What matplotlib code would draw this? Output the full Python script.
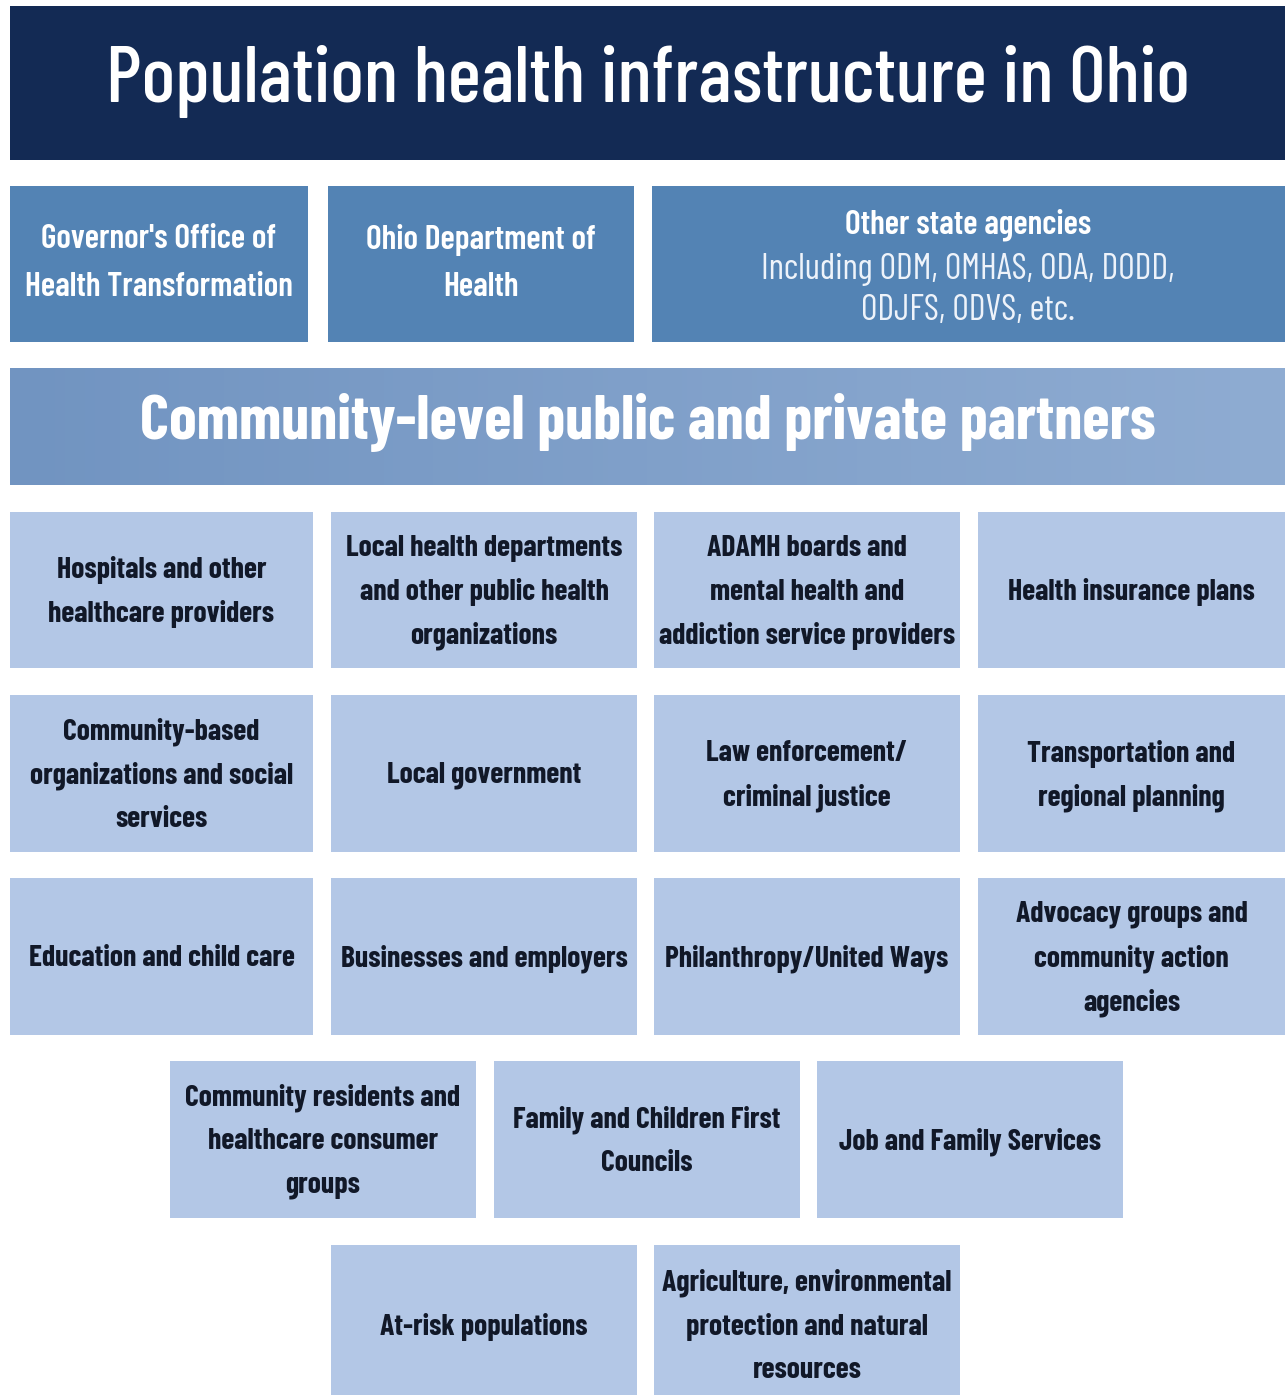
import numpy as np
import matplotlib
matplotlib.use("Agg")
import matplotlib.pyplot as plt
from matplotlib.patches import Rectangle

# === TEXTOS ===
titulo = "Population health infrastructure in Ohio"
subtitulo = "Community-level public and private partners"

agencias = [
    "Governor's Office of\nHealth Transformation",
    "Ohio Department of\nHealth",
    "Other state agencies",
]
agencias_nota = "Including ODM, OMHAS, ODA, DODD,\nODJFS, ODVS, etc."

fila1 = ["Hospitals and other\nhealthcare providers",
         "Local health departments\nand other public health\norganizations",
         "ADAMH boards and\nmental health and\naddiction service providers",
         "Health insurance plans"]
fila2 = ["Community-based\norganizations and social\nservices",
         "Local government",
         "Law enforcement/\ncriminal justice",
         "Transportation and\nregional planning"]
fila3 = ["Education and child care",
         "Businesses and employers",
         "Philanthropy/United Ways",
         "Advocacy groups and\ncommunity action\nagencies"]
fila4 = ["Community residents and\nhealthcare consumer\ngroups",
         "Family and Children First\nCouncils",
         "Job and Family Services"]
fila5 = ["At-risk populations",
         "Agriculture, environmental\nprotection and natural\nresources"]

# === ESTILO ===
FUENTE = ["Barlow Condensed", "Roboto Condensed", "DejaVu Sans"]
NAVY = "#132a54"
AZUL_MEDIO = "#5383b4"
AZUL_CLARO = "#b3c7e6"
TEXTO_OSCURO = "#111828"

W, H = 1285, 1395
fig = plt.figure(figsize=(W / 100, H / 100), dpi=100, facecolor="white")
ax = fig.add_axes([0, 0, 1, 1])
ax.set_xlim(0, W)
ax.set_ylim(H, 0)
ax.axis("off")
renderer = fig.canvas.get_renderer()


def ajustar(t, ancho):
    # escala el tamaño de fuente para que el texto ocupe "ancho" px
    w = t.get_window_extent(renderer).width
    t.set_fontsize(t.get_fontsize() * ancho / w)
    return t.get_fontsize()


def caja(x0, x1, y0, y1, color):
    ax.add_patch(Rectangle((x0, y0), x1 - x0, y1 - y0, facecolor=color, edgecolor="none"))


def lineas(texto, cx, cy, paso, size, color, weight):
    partes = texto.split("\n")
    n = len(partes)
    for i, p in enumerate(partes):
        ax.text(cx, cy + (i - (n - 1) / 2) * paso, p, ha="center", va="center",
                fontsize=size, color=color, fontweight=weight, family=FUENTE)


# --- Encabezado ---
caja(10, W, 6, 160, NAVY)
t = ax.text(648, 82, titulo, ha="center", va="center", color="white",
            fontsize=60, fontweight=500, family=FUENTE)
ajustar(t, 1085)

# --- Agencias estatales ---
cols_estado = [(10, 308), (328, 634), (652, W)]
y0, y1 = 186, 342
for (a, b) in cols_estado:
    caja(a, b, y0, y1, AZUL_MEDIO)

t = ax.text(0, 0, "Health Transformation", fontsize=30, fontweight=600, family=FUENTE)
s_estado = ajustar(t, 268)
t.remove()
for (a, b), lab in zip(cols_estado[:2], agencias[:2]):
    lineas(lab, (a + b) / 2, (y0 + y1) / 2, 48, s_estado, "white", 600)
lineas(agencias[2], 968, 225, 44, s_estado, "white", 600)
t = ax.text(0, 0, agencias_nota.split("\n")[0], fontsize=24, fontweight=400, family=FUENTE)
s_nota = ajustar(t, 413)
t.remove()
lineas(agencias_nota, 968, 290, 41, s_nota, "#eef3fa", 400)

# --- Banda comunitaria con degradado ---
grad = np.linspace(0, 1, 256).reshape(1, -1)
cmap = matplotlib.colors.LinearSegmentedColormap.from_list("banda", ["#7194c1", "#8facd2"])
ax.imshow(grad, extent=(10, W, 485, 368), cmap=cmap, aspect="auto", zorder=0)
t = ax.text(648, 422, subtitulo, ha="center", va="center", color="white",
            fontsize=44, fontweight=700, family=FUENTE, zorder=2)
ajustar(t, 1015)

# --- Cuadricula de socios ---
t = ax.text(0, 0, "Health insurance plans", fontsize=26, fontweight=700, family=FUENTE)
s_caja = ajustar(t, 247)
t.remove()

cols4 = [(10, 313), (331, 637), (654, 960), (978, W)]
cols3 = [(170, 476), (494, 800), (817, 1123)]
cols2 = [(331, 637), (654, 960)]
filas = [
    (fila1, cols4, 512, 668),
    (fila2, cols4, 695, 852),
    (fila3, cols4, 878, 1035),
    (fila4, cols3, 1061, 1218),
    (fila5, cols2, 1245, 1405),
]
for etiquetas, cols, ya, yb in filas:
    for (a, b), lab in zip(cols, etiquetas):
        caja(a, b, ya, yb, AZUL_CLARO)
        lineas(lab, (a + b) / 2, (ya + yb) / 2 + 2, 44, s_caja, TEXTO_OSCURO, 700)

fig.savefig("out.png", dpi=100, facecolor="white")
